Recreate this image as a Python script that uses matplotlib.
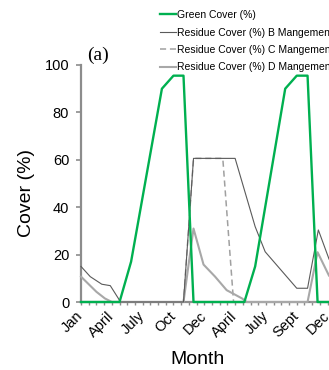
import matplotlib
matplotlib.use("Agg")
import matplotlib.pyplot as plt

# ---- data (x in half-month-like units, 0 = Jan) ----
green_x = [0, 5.0, 6.5, 10.5, 12.0, 13.3, 14.6, 21.2, 22.6, 26.5, 28.0, 29.4, 30.7, 36]
green_y = [0, 0, 17, 90, 95.5, 95.5, 0, 0, 15, 90, 95.5, 95.5, 0, 0]

resB_x = [0, 1.2, 2.7, 3.8, 4.85, 5.1, 13.3, 14.6, 20.0, 22.6, 23.9, 28.0, 29.4, 30.8, 32.2, 33.0]
resB_y = [15, 10.7, 7.5, 6.9, 1.5, 0, 0, 60.6, 60.6, 31.8, 21.2, 5.8, 5.8, 30.4, 18, 15]

resC_x = [0, 13.3, 14.6, 18.4, 19.8, 36]
resC_y = [0, 0, 60.6, 60.6, 0, 0]

resD_x = [0, 2.0, 3.1, 4.0, 13.3, 14.6, 15.9, 17.4, 18.9, 20.9, 21.5, 29.4, 30.7, 32.2, 33.0]
resD_y = [10.7, 4.3, 1.5, 0, 0, 31, 15.8, 10.7, 5, 1.5, 0, 0, 21, 11, 10]

tick_pos = [0, 4, 8, 12, 16, 20, 24, 28, 32]
tick_labels = ["Jan", "April", "July", "Oct", "Dec", "April", "July", "Sept", "Dec"]

labels = ["Green Cover (%)",
          "Residue Cover (%) B Mangement",
          "Residue Cover (%) C Mangement",
          "Residue Cover (%) D Mangement"]

plt.rcParams['font.family'] = ['Liberation Sans', 'DejaVu Sans']

fig = plt.figure(figsize=(3.29, 3.70), dpi=100)
ax = fig.add_axes([81/329, 68/370, 262/329, 237/370])

l1, = ax.plot(green_x, green_y, color='#00b050', lw=1.7, clip_on=False, zorder=5)
l2, = ax.plot(resB_x, resB_y, color='#5a5a5a', lw=0.8, clip_on=False, zorder=4)
l3, = ax.plot(resC_x, resC_y, color='#a0a0a0', lw=1.1, ls=(0, (4, 2.5)), clip_on=False, zorder=3)
l4, = ax.plot(resD_x, resD_y, color='#a8a8a8', lw=1.5, clip_on=False, zorder=3)

ax.set_xlim(0, 34)
ax.set_ylim(0, 100)

for s in ['top', 'right']:
    ax.spines[s].set_visible(False)
for s in ['left', 'bottom']:
    ax.spines[s].set_color('#8c8c8c')
    ax.spines[s].set_linewidth(1.6)

ax.set_xticks(range(0, 35))
ax.set_xticklabels([tick_labels[tick_pos.index(i)] if i in tick_pos else "" for i in range(0, 35)],
                   rotation=45, ha='right', va='center', rotation_mode='anchor', fontsize=10.5)
ax.tick_params(axis='x', length=2.5, width=1.0, color='#8c8c8c', pad=6)
ax.set_yticks([0, 20, 40, 60, 80, 100])
ax.tick_params(axis='y', length=3.5, width=1.2, color='#8c8c8c', labelsize=10.5, pad=5)

ax.set_ylabel("Cover (%)", fontsize=14)
ax.yaxis.set_label_coords(-0.175, 0.46)
ax.set_xlabel("Month", fontsize=14)
ax.xaxis.set_label_coords(0.443, -0.205)

fig.text(87/329, 1 - 55/370, "(a)", family=['Liberation Serif'], fontsize=14, va='center', ha='left')

fig.legend([l1, l2, l3, l4], labels, loc='upper left', bbox_to_anchor=(160/329, 1 - 10/370),
           frameon=False, fontsize=7.5, handlelength=1.5, handletextpad=0.15,
           labelspacing=0.72, borderpad=0, borderaxespad=0)

fig.savefig("out.png", dpi=100)
